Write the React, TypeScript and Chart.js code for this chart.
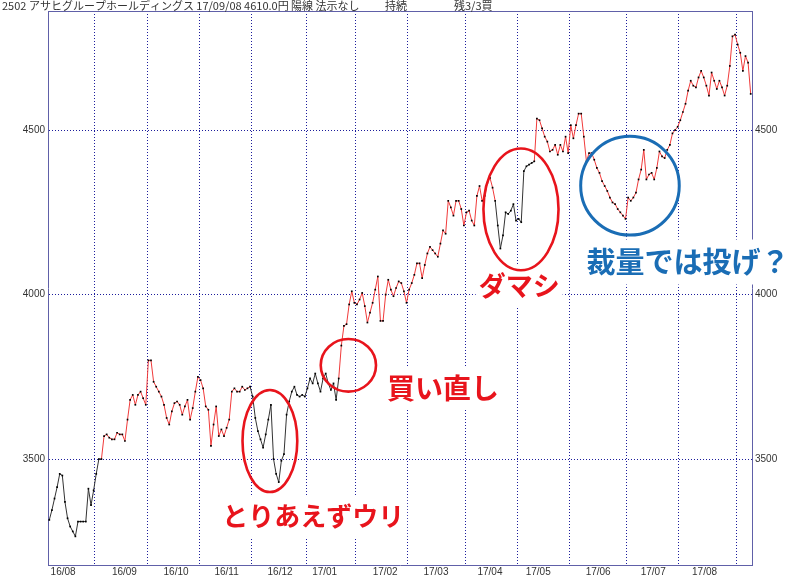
import React, { useEffect, useRef } from "react";
import { Chart, registerables } from "chart.js";

Chart.register(...registerables);

// ---- Daily closes (yen), one array per month ----
const aug16 = [3315, 3345, 3380, 3415, 3455, 3450, 3370, 3320, 3295, 3280, 3265, 3310, 3310, 3310, 3310, 3410, 3360, 3405];
const sep16 = [3455, 3500, 3500, 3570, 3575, 3565, 3560, 3560, 3580, 3575, 3575, 3555, 3620, 3680, 3695, 3665, 3695, 3705, 3685, 3665];
const oct16 = [3800, 3800, 3735, 3720, 3705, 3690, 3665, 3625, 3605, 3645, 3670, 3675, 3665, 3635, 3660, 3680, 3620, 3655, 3705, 3750];
const nov16 = [3740, 3715, 3660, 3650, 3540, 3605, 3660, 3570, 3590, 3570, 3595, 3620, 3705, 3715, 3705, 3705, 3720, 3710, 3715, 3720];
const dec16 = [3690, 3625, 3585, 3560, 3535, 3575, 3620, 3665, 3500, 3455, 3430, 3495, 3515, 3635, 3675, 3705, 3720, 3695, 3690, 3695, 3690];
const jan17 = [3715, 3745, 3730, 3760, 3730, 3705, 3745, 3760, 3730, 3710, 3730, 3680, 3745, 3845, 3905, 3910, 3970, 4010, 3975];
const feb17 = [3970, 3985, 4005, 3965, 3915, 3945, 3975, 4015, 4055, 3920, 3920, 4000, 4045, 4015, 3995, 4020, 4040, 4035, 4010, 3975];
const mar17 = [4015, 4035, 4060, 4095, 4095, 4050, 4090, 4125, 4145, 4135, 4125, 4115, 4155, 4195, 4185, 4285, 4265, 4240, 4285, 4285, 4260, 4210];
const apr17 = [4250, 4255, 4225, 4210, 4300, 4330, 4285, 4300, 4340, 4355, 4325, 4285, 4210, 4140, 4180, 4250, 4245, 4255, 4275, 4225];
const may17 = [4230, 4220, 4375, 4390, 4395, 4400, 4405, 4535, 4530, 4505, 4480, 4465, 4435, 4440, 4455, 4425, 4455, 4435, 4480, 4430];
const jun17 = [4515, 4475, 4515, 4550, 4550, 4480, 4405, 4430, 4430, 4410, 4385, 4370, 4345, 4330, 4315, 4295, 4280, 4275, 4260, 4250, 4240, 4230];
const jul17 = [4295, 4285, 4295, 4310, 4350, 4380, 4440, 4350, 4365, 4370, 4350, 4385, 4435, 4420, 4415, 4440, 4455, 4490, 4500, 4510];
const aug17 = [4530, 4555, 4580, 4620, 4650, 4635, 4630, 4660, 4680, 4660, 4635, 4605, 4675, 4650, 4625, 4650, 4630, 4605, 4635, 4695, 4785, 4790];
const sep17 = [4760, 4735, 4680, 4725, 4705, 4610];

const prices = [
  ...aug16, ...sep16, ...oct16, ...nov16, ...dec16, ...jan17, ...feb17,
  ...mar17, ...apr17, ...may17, ...jun17, ...jul17, ...aug17, ...sep17,
];

// index of the first trading day of each month (grid lines sit half a day before)
const monthStarts = [18, 38, 58, 78, 99, 118, 138, 160, 180, 200, 222, 242, 264];
const monthLabels = ["16/08", "16/09", "16/10", "16/11", "16/12", "17/01", "17/02", "17/03", "17/04", "17/05", "17/06", "17/07", "17/08"];
const monthLabelPos = [5.3, 28.8, 48.6, 68.0, 88.5, 105.6, 128.8, 148.3, 169.0, 187.5, 210.5, 231.6, 251.3];
const yTicks = [3500, 4000, 4500];
const yMin = 3178;
const yMax = 4862;
// trading-day ranges drawn in black (segment start index from..to)
const blackRanges = [[0, 20], [77, 111], [171, 186]];

const RED = "#e8141c";
const BLUE = "#1a6db5";
const ellipses = [
  { x: 84.6, y: 3555, rx: 10.5, ry: 155, color: RED, width: 2.6 },
  { x: 114.7, y: 3785, rx: 10.6, ry: 80, color: RED, width: 2.6 },
  { x: 180.9, y: 4259, rx: 14.4, ry: 185, color: RED, width: 2.6 },
  { x: 222.7, y: 4331, rx: 18.9, ry: 150, color: BLUE, width: 3 },
];
const notes = [
  { text: "とりあえずウリ", x: 101.2, y: 3327, color: RED, size: 26 },
  { text: "買い直し", x: 151.0, y: 3716, color: RED, size: 28 },
  { text: "ダマシ", x: 180.2, y: 4026, color: RED, size: 27 },
  { text: "裁量では投げ？", x: 245.0, y: 4099, color: BLUE, size: 29 },
];
const titleParts = [
  { text: "2502 アサヒグループホールディングス 17/09/08 4610.0円 陽線 法示なし", x: 2 },
  { text: "持続", x: 385 },
  { text: "残3/3買", x: 454 },
];

const AXIS = "#6060a8";
const GRID = "#1c1c9c";
const TICK_FONT = { family: '"Liberation Sans", Arial, sans-serif', size: 10 };
const JP = '"Noto Sans CJK JP", "Noto Sans", sans-serif';

const isBlack = (i: number) => blackRanges.some(([a, b]) => i >= a && i < b);

const notesPlugin = {
  id: "notes",
  afterDraw(chart: any) {
    const { ctx, scales } = chart;
    const xs = scales.x;
    const ys = scales.y;
    ctx.save();
    const boxes = notes.map((n) => {
      ctx.font = `bold ${n.size}px ${JP}`;
      const w = ctx.measureText(n.text).width;
      const cx = xs.getPixelForValue(n.x);
      const cy = ys.getPixelForValue(n.y);
      return { n, w, cx, cy };
    });
    ctx.fillStyle = "#ffffff";
    for (const b of boxes) {
      ctx.fillRect(b.cx - b.w / 2 - 3, b.cy - b.n.size / 2 - 8, b.w + 6, b.n.size + 16);
    }
    for (const e of ellipses) {
      const cx = xs.getPixelForValue(e.x);
      const cy = ys.getPixelForValue(e.y);
      const rx = Math.abs(xs.getPixelForValue(e.x + e.rx) - cx);
      const ry = Math.abs(ys.getPixelForValue(e.y + e.ry) - cy);
      ctx.beginPath();
      ctx.ellipse(cx, cy, rx, ry, 0, 0, Math.PI * 2);
      ctx.lineWidth = e.width;
      ctx.strokeStyle = e.color;
      ctx.stroke();
    }
    ctx.textAlign = "center";
    ctx.textBaseline = "middle";
    for (const b of boxes) {
      ctx.font = `bold ${b.n.size}px ${JP}`;
      ctx.fillStyle = b.n.color;
      ctx.fillText(b.n.text, b.cx, b.cy);
    }
    ctx.textAlign = "left";
    ctx.font = `11px ${JP}`;
    ctx.fillStyle = "#333333";
    for (const t of titleParts) ctx.fillText(t.text, t.x, 6);
    ctx.restore();
  },
};

export default function App() {
  const ref = useRef<HTMLCanvasElement>(null);
  useEffect(() => {
    const chart = new Chart(ref.current as HTMLCanvasElement, {
      type: "line",
      data: {
        datasets: [
          {
            data: prices.map((v, i) => ({ x: i, y: v })),
            xAxisID: "x",
            yAxisID: "y",
            borderWidth: 1,
            borderColor: "#ee3333",
            segment: {
              borderColor: (c: any) => (isBlack(c.p0DataIndex) ? "#333333" : "#f03a3a"),
            },
            pointStyle: "rect",
            pointRadius: 1.2,
            pointBorderWidth: 0,
            pointBackgroundColor: "#000000",
            tension: 0,
            fill: false,
          },
        ],
      },
      options: {
        responsive: false,
        animation: false,
        events: [],
        layout: { padding: 0 },
        plugins: { legend: { display: false }, tooltip: { enabled: false }, title: { display: false } },
        scales: {
          x: {
            type: "linear",
            position: "bottom",
            weight: 0,
            min: -0.5,
            max: prices.length - 0.5,
            afterBuildTicks: (s: any) => { s.ticks = monthStarts.map((v) => ({ value: v - 0.5 })); },
            afterFit: (s: any) => { s.height = 0; },
            ticks: { display: false },
            grid: { color: GRID, lineWidth: 1, drawTicks: false },
            border: { display: true, color: AXIS, width: 1, dash: [1, 2] },
          },
          xLabels: {
            type: "linear",
            position: "bottom",
            weight: 1,
            min: -0.5,
            max: prices.length - 0.5,
            afterBuildTicks: (s: any) => { s.ticks = monthLabelPos.map((v) => ({ value: v })); },
            afterFit: (s: any) => { s.height = 11; },
            ticks: {
              autoSkip: false,
              maxRotation: 0,
              padding: 1,
              font: TICK_FONT,
              color: "#333333",
              callback: (_v: any, i: number) => monthLabels[i],
            },
            grid: { display: false, drawTicks: false },
            border: { display: false },
          },
          xTop: {
            type: "linear",
            position: "top",
            min: -0.5,
            max: prices.length - 0.5,
            afterBuildTicks: (s: any) => { s.ticks = []; },
            afterFit: (s: any) => { s.height = 11; },
            ticks: { display: false },
            grid: { display: false, drawTicks: false },
            border: { display: true, color: AXIS, width: 1 },
          },
          y: {
            type: "linear",
            position: "left",
            min: yMin,
            max: yMax,
            afterBuildTicks: (s: any) => { s.ticks = yTicks.map((v) => ({ value: v })); },
            afterFit: (s: any) => { s.width = 48; },
            ticks: { font: TICK_FONT, color: "#333333", padding: 3, callback: (v: any) => String(v) },
            grid: { color: GRID, lineWidth: 1, drawTicks: false },
            border: { display: true, color: AXIS, width: 1, dash: [1, 2] },
          },
          y2: {
            type: "linear",
            position: "right",
            min: yMin,
            max: yMax,
            afterBuildTicks: (s: any) => { s.ticks = yTicks.map((v) => ({ value: v })); },
            afterFit: (s: any) => { s.width = 48; },
            ticks: { font: TICK_FONT, color: "#333333", padding: 3, callback: (v: any) => String(v) },
            grid: { display: false, drawTicks: false },
            border: { display: true, color: AXIS, width: 1 },
          },
        },
      } as any,
      plugins: [notesPlugin],
    });
    return () => chart.destroy();
  }, []);
  return (
    <div style={{ position: "fixed", left: 0, top: 0, width: 800, height: 576, background: "#ffffff" }}>
      <canvas ref={ref} width={800} height={576} style={{ display: "block", width: 800, height: 576 }} />
    </div>
  );
}
